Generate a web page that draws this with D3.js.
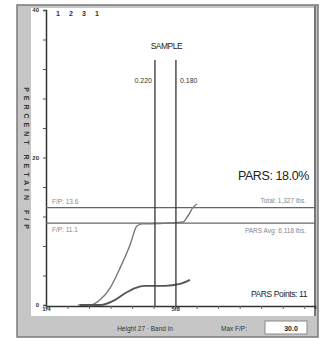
<!DOCTYPE html>
<html lang="en">
<head>
	<meta charset="UTF-8">
	<title>PARS</title>
	<script src="https://cdn.jsdelivr.net/npm/d3@7"></script>
	<style>
		html,body{margin:0;padding:0;background:#fff;}
		svg{display:block;font-family:"Liberation Sans",Arial,sans-serif;}
	</style>
</head>
<body>
	<div id="main"></div>
	<script>
		// data
		var upperX = [11.9, 16.4, 20.1, 23.8, 27.5, 31.2, 33.8, 35.7, 42.4, 50.9, 52.8, 54.6, 56.1];
		var upperY = [0, 0, 0.7, 2.3, 5.0, 8.1, 10.7, 11.0, 11.05, 11.25, 12.1, 13.2, 13.7];
		var lowerX = [12.6, 20.1, 25.7, 29.4, 33.1, 36.8, 44.2, 49.8, 53.5];
		var lowerY = [0, 0, 0.7, 1.6, 2.3, 2.6, 2.6, 2.85, 3.4];
		var fpValues = [13.2, 11.1];
		var fpLabels = ["F/P: 13.6", "F/P: 11.1"];
		var sampleX = [40.5, 48.3];
		var sampleLabels = ["0.220", "0.180"];
		var yTickLabels = {0: "0", 20: "20", 40: "40"};
		var xTickValues = [0, 8, 16, 24, 32, 40, 48, 56, 64, 72, 80, 88, 96];
		var xTickLabels = {0: "1/4", 48: "5/8"};
		var topNumbers = ["1", "2", "3", "1"];

		var W = 321, H = 338;
		var svg = d3.select("#main").append("svg").attr("width", W).attr("height", H);

		// frame
		svg.append("rect").attr("x", 17).attr("y", 5).attr("width", 301).attr("height", 332)
			.attr("fill", "#c6c6c6").attr("stroke", "#7a7a7a").attr("stroke-width", 1.5);
		svg.append("rect").attr("x", 31).attr("y", 8).attr("width", 284).attr("height", 308)
			.attr("fill", "#fff");
		svg.append("line").attr("x1", 315).attr("x2", 315).attr("y1", 6).attr("y2", 316)
			.attr("stroke", "#777").attr("stroke-width", 2);

		var x = d3.scaleLinear().domain([0, 100]).range([46, 315]);
		var y = d3.scaleLinear().domain([0, 40]).range([305, 10]);

		// axes
		var yAxis = d3.axisLeft(y).tickValues(d3.range(0, 41, 4)).tickSize(3)
			.tickFormat(function(d){ return yTickLabels[d] || ""; });
		var gy = svg.append("g").attr("transform", "translate(46,0)").call(yAxis);
		gy.select(".domain").attr("stroke", "#333").attr("stroke-width", 1.5);
		gy.selectAll(".tick line").attr("stroke", "#555");
		gy.selectAll(".tick text").attr("font-size", 6).attr("font-weight", "bold").attr("fill", "#333").attr("dx", -1);

		var xAxis = d3.axisBottom(x).tickValues(xTickValues).tickSize(3)
			.tickFormat(function(d){ return xTickLabels[d] || ""; });
		var gx = svg.append("g").attr("transform", "translate(0,306)").call(xAxis);
		gx.select(".domain").attr("stroke", "#333").attr("stroke-width", 1.5);
		gx.selectAll(".tick line").attr("stroke", "#666");
		gx.selectAll(".tick text").attr("font-size", 6).attr("font-weight", "bold").attr("fill", "#333").attr("dy", -1);

		svg.selectAll(".topnum").data(topNumbers).enter().append("text")
			.attr("x", function(d, i){ return 58 + i * 13; }).attr("y", 16)
			.attr("font-size", 7).attr("font-weight", "bold").attr("fill", "#333").attr("text-anchor", "middle")
			.text(function(d){ return d; });

		// F/P lines
		var fp = svg.selectAll(".fp").data(fpValues).enter().append("g");
		fp.append("line").attr("x1", 46).attr("x2", 315)
			.attr("y1", function(d){ return y(d); }).attr("y2", function(d){ return y(d); })
			.attr("stroke", "#666").attr("stroke-width", 1.3);
		fp.append("text").attr("x", 52)
			.attr("y", function(d, i){ return i === 0 ? y(d) - 4 : y(d) + 9; })
			.attr("font-size", 6.5).attr("fill", "#888")
			.text(function(d, i){ return fpLabels[i]; });

		// sample lines
		var line = d3.line().x(function(d){ return x(d[0]); }).y(function(d){ return y(d[1]); })
			.curve(d3.curveMonotoneX);
		svg.append("path").datum(d3.zip(upperX, upperY)).attr("d", line)
			.attr("fill", "none").attr("stroke", "#777").attr("stroke-width", 1.4);
		svg.append("path").datum(d3.zip(lowerX, lowerY)).attr("d", line)
			.attr("fill", "none").attr("stroke", "#555").attr("stroke-width", 1.8);

		svg.selectAll(".sample").data(sampleX).enter().append("line")
			.attr("x1", function(d){ return x(d); }).attr("x2", function(d){ return x(d); })
			.attr("y1", 60).attr("y2", 306)
			.attr("stroke", "#333").attr("stroke-width", 1.3);
		svg.append("text").attr("x", (x(sampleX[0]) + x(sampleX[1])) / 2 + 1).attr("y", 49)
			.attr("text-anchor", "middle").attr("font-size", 8.5).attr("fill", "#222")
			.attr("letter-spacing", -0.5).text("SAMPLE");
		svg.selectAll(".slab").data(sampleX).enter().append("text")
			.attr("x", function(d, i){ return i === 0 ? x(d) - 3 : x(d) + 4; })
			.attr("y", 83).attr("font-size", 7).attr("fill", "#333")
			.attr("text-anchor", function(d, i){ return i === 0 ? "end" : "start"; })
			.text(function(d, i){ return sampleLabels[i]; });

		// right side texts
		svg.append("text").attr("x", 309).attr("y", 180).attr("text-anchor", "end")
			.attr("font-size", 12.5).attr("fill", "#222").attr("letter-spacing", -0.4).text("PARS: 18.0%");
		svg.append("text").attr("x", 306).attr("y", 203).attr("text-anchor", "end")
			.attr("font-size", 6.5).attr("fill", "#888").text("Total: 1,327 lbs.");
		svg.append("text").attr("x", 306).attr("y", 233).attr("text-anchor", "end")
			.attr("font-size", 6.5).attr("fill", "#888").text("PARS Avg: 6,118 lbs.");
		svg.append("text").attr("x", 307).attr("y", 297).attr("text-anchor", "end")
			.attr("font-size", 8.5).attr("fill", "#222").attr("letter-spacing", -0.4).text("PARS Points: 11");

		// left band vertical caption
		svg.append("text").attr("transform", "translate(24,160) rotate(90)")
			.attr("text-anchor", "middle").attr("font-size", 7).attr("font-weight", "bold").attr("fill", "#333")
			.attr("letter-spacing", 4).text("PERCENT RETAIN  F/P");

		// bottom band
		svg.append("text").attr("x", 145).attr("y", 331).attr("text-anchor", "middle")
			.attr("font-size", 6.5).attr("fill", "#333").text("Height 27 · Band in");
		svg.append("text").attr("x", 247).attr("y", 331).attr("text-anchor", "end")
			.attr("font-size", 6.5).attr("fill", "#333").text("Max F/P:");
		svg.append("rect").attr("x", 265).attr("y", 321).attr("width", 42).attr("height", 13)
			.attr("fill", "#fff").attr("stroke", "#888");
		svg.append("text").attr("x", 291).attr("y", 331).attr("text-anchor", "middle")
			.attr("font-size", 7).attr("font-weight", "bold").attr("fill", "#222").text("30.0");
	</script>
</body>
</html>
